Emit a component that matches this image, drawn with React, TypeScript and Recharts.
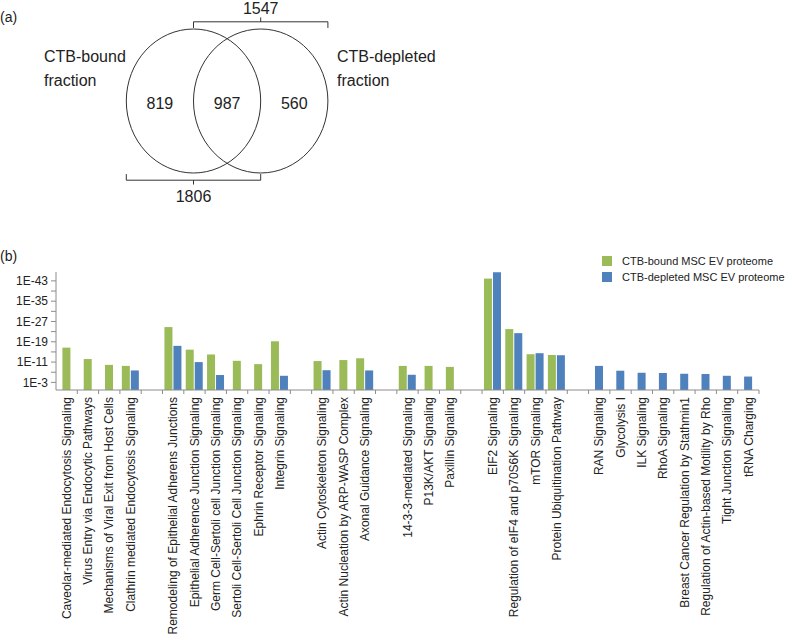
import React from 'react'
import {
  BarChart, Bar, XAxis, YAxis, Legend, ScatterChart, Scatter, ReferenceLine,
} from 'recharts'

const FONT = '"Liberation Sans", Arial, Helvetica, sans-serif'
const INK = '#222'
const AXIS = '#8c8c8c'
const GREEN = '#9BBB59'
const BLUE = '#4F81BD'

// ---- (a) Venn data
const vennSetNames = [['CTB-bound', 'fraction'], ['CTB-depleted', 'fraction']]
const vennCounts = [819, 987, 560] // bound only, shared, depleted only
const vennTotals = [1806, 1547] // bound, depleted

// ---- (b) enrichment, -log10(p); '' = spacer between groups
const pathways = [
  'Caveolar-mediated Endocytosis Signaling',
  'Virus Entry via Endocytic Pathways',
  'Mechanisms of Viral Exit from Host Cells',
  'Clathrin mediated Endocytosis Signaling',
  '',
  'Remodeling of Epithelial Adherens Junctions',
  'Epithelial Adherence Junction Signaling',
  'Germ Cell-Sertoli cell Junction Signaling',
  'Sertoli Cell-Sertoli Cell Junction Signaling',
  'Ephrin Receptor Signaling',
  'Integrin Signaling',
  '',
  'Actin Cytoskeleton Signaling',
  'Actin Nucleation by ARP-WASP Complex',
  'Axonal Guidance Signaling',
  '',
  '14-3-3-mediated Signaling',
  'P13K/AKT Signaling',
  'Paxillin Signaling',
  '',
  'EIF2 Signaling',
  'Regulation of eIF4 and p70S6K Signaling',
  'mTOR Signaling',
  'Protein Ubiquitination Pathway',
  '',
  'RAN Signaling',
  'Glycolysis I',
  'ILK Signaling',
  'RhoA Signaling',
  'Breast Cancer Regulation by Stathmin1',
  'Regulation of Actin-based Motility by Rho',
  'Tight Junction Signaling',
  'tRNA Charging',
]
const boundScores = [
  16.7, 12.2, 9.9, 9.5, null,
  24.8, 15.9, 14.0, 11.5, 10.2, 19.2, null,
  11.4, 11.8, 12.5, null,
  9.5, 9.5, 9.1, null,
  43.9, 24.0, 14.1, 13.8, null,
  null, null, null, null, null, null, null, null,
]
const depletedScores = [
  null, null, null, 7.7, null,
  17.4, 11.0, 5.9, null, null, 5.6, null,
  7.8, null, 7.7, null,
  6.0, null, null, null,
  46.4, 22.4, 14.5, 13.7, null,
  9.5, 7.6, 6.8, 6.7, 6.4, 6.3, 5.6, 5.3,
]
const seriesNames = ['CTB-bound MSC EV proteome', 'CTB-depleted MSC EV proteome']
const yTicks = [3, 7, 11, 15, 19, 23, 27, 31, 35, 39, 43]

const barData = pathways.map((name, i) => ({
  name,
  bound: boundScores[i],
  depleted: depletedScores[i],
}))

// venn geometry: one unit = one circle radius
const VENN_W = 799
const VENN_H = 240
const UNIT_X = 67.2
const UNIT_Y = 72
const X0 = 193.5
const Y0 = 101
const vennXDomain = [-X0 / UNIT_X, (VENN_W - X0) / UNIT_X]
const vennYDomain = [(Y0 - VENN_H) / UNIT_Y, Y0 / UNIT_Y]
const setCentres = [0, 1]
const regionX = [-0.5, 0.5, 1.5]

const circleData = setCentres.map((x) => ({ x, y: 0 }))
const countData = vennCounts.map((c, i) => ({ x: regionX[i], y: -0.04, text: String(c), anchor: 'middle' }))
const nameData = vennSetNames.flatMap((lines, i) =>
  lines.map((t, j) => ({ x: i === 0 ? -2.225 : 2.135, y: j === 0 ? 0.625 : 0.292, text: t, anchor: 'start' })),
)
const totalData = vennTotals.map((t, i) => ({ x: setCentres[i], y: i === 0 ? -1.32 : 1.29, text: String(t), anchor: 'middle' }))
const allText = [...countData, ...nameData, ...totalData]

const bracketSegments = vennTotals.flatMap((_, i) => {
  const cx = setCentres[i]
  const d = i === 0 ? -1 : 1
  return [
    [{ x: cx - 1, y: d * 1.1 }, { x: cx + 1, y: d * 1.1 }],
    [{ x: cx - 1, y: d * 1.1 }, { x: cx - 1, y: d * 1.015 }],
    [{ x: cx + 1, y: d * 1.1 }, { x: cx + 1, y: d * 1.015 }],
    [{ x: cx, y: d * 1.1 }, { x: cx, y: d * 1.16 }],
  ]
})

const Ellipse = (p: any) => (
  <ellipse cx={p.cx} cy={p.cy} rx={UNIT_X} ry={UNIT_Y} fill="none" stroke="#333" strokeWidth={1} />
)
const Label = (p: any) => (
  <text x={p.cx} y={p.cy} dy="0.35em" textAnchor={p.payload.anchor} fontSize={16} fill={INK} fontFamily={FONT}>
    {p.payload.text}
  </text>
)

const BAR_GAP = 1
// lone bars sit in the middle of their category
const pairedBar = (other: 'bound' | 'depleted', color: string) => (p: any) => {
  if (p.height == null || p.width == null) return null
  const lone = p.payload?.[other] == null
  const shift = lone ? ((other === 'depleted' ? 1 : -1) * (p.width + BAR_GAP)) / 2 : 0
  return <rect x={p.x + shift} y={p.y} width={p.width} height={p.height} fill={color} />
}

const TICK_MARGIN = 7
// label plus an Excel-style tick mark on the category boundary
const PathwayTick = ({ x, y, payload }: any) => {
  const axisY = y - TICK_MARGIN
  const edge = x + (payload.offset ?? 0)
  return (
    <g>
      <line x1={edge} y1={axisY} x2={edge} y2={axisY + 4} stroke={AXIS} />
      <text
        x={x}
        y={y}
        transform={`rotate(-90, ${x}, ${y})`}
        textAnchor="end"
        dy="0.35em"
        fontSize={12}
        fill={INK}
        fontFamily={FONT}
      >
        {payload.value}
      </text>
    </g>
  )
}

const LegendBox = () => (
  <div style={{ fontFamily: FONT, fontSize: 11, color: INK }}>
    {seriesNames.map((n, i) => (
      <div key={n} style={{ display: 'flex', alignItems: 'center', height: 16 }}>
        <span style={{ width: 10, height: 10, background: i === 0 ? GREEN : BLUE, marginRight: 10 }} />
        {n}
      </div>
    ))}
  </div>
)

export default function App() {
  return (
    <div style={{ position: 'absolute', left: 0, top: 0, width: 799, height: 637, background: '#fff' }}>
      <div style={{ position: 'absolute', left: 0, top: 9, fontFamily: FONT, fontSize: 14, color: INK }}>(a)</div>
      <div style={{ position: 'absolute', left: 0, top: 248, fontFamily: FONT, fontSize: 14, color: INK }}>(b)</div>

      <div style={{ position: 'absolute', left: 0, top: 0 }}>
        <ScatterChart width={VENN_W} height={VENN_H} margin={{ top: 0, right: 0, bottom: 0, left: 0 }}>
          <XAxis type="number" dataKey="x" hide domain={vennXDomain} allowDataOverflow />
          <YAxis type="number" dataKey="y" hide domain={vennYDomain} allowDataOverflow />
          <Scatter data={circleData} shape={Ellipse} isAnimationActive={false} />
          <Scatter data={allText} shape={Label} isAnimationActive={false} />
          {bracketSegments.map((seg, i) => (
            <ReferenceLine key={i} segment={seg} stroke="#333" strokeWidth={1} />
          ))}
        </ScatterChart>
      </div>

      <div style={{ position: 'absolute', left: 0, top: 240 }}>
        <BarChart
          width={799}
          height={397}
          data={barData}
          margin={{ top: 32, right: 40, bottom: 0, left: 0 }}
          barCategoryGap="9%"
          barGap={BAR_GAP}
        >
          <XAxis
            dataKey="name"
            type="category"
            height={247}
            interval={0}
            axisLine={{ stroke: AXIS }}
            tickLine={false}
            tickSize={0}
            tickMargin={TICK_MARGIN}
            tick={<PathwayTick />}
          />
          <YAxis
            type="number"
            domain={[0, 46.5]}
            ticks={yTicks}
            width={56}
            tickSize={5}
            tickMargin={3}
            interval={0}
            allowDataOverflow
            tickFormatter={(v: number) => ((v - 3) % 8 === 0 ? `1E-${v}` : '')}
            tick={{ fontSize: 12, fill: INK, fontFamily: FONT }}
            axisLine={{ stroke: AXIS }}
            tickLine={{ stroke: AXIS }}
          />
          <Legend
            layout="vertical"
            align="center"
            verticalAlign="middle"
            content={<LegendBox />}
            wrapperStyle={{ top: 13, left: 602, width: 200 }}
          />
          <Bar dataKey="bound" name={seriesNames[0]} fill={GREEN} shape={pairedBar('depleted', GREEN)} isAnimationActive={false} />
          <Bar dataKey="depleted" name={seriesNames[1]} fill={BLUE} shape={pairedBar('bound', BLUE)} isAnimationActive={false} />
        </BarChart>
      </div>
    </div>
  )
}
